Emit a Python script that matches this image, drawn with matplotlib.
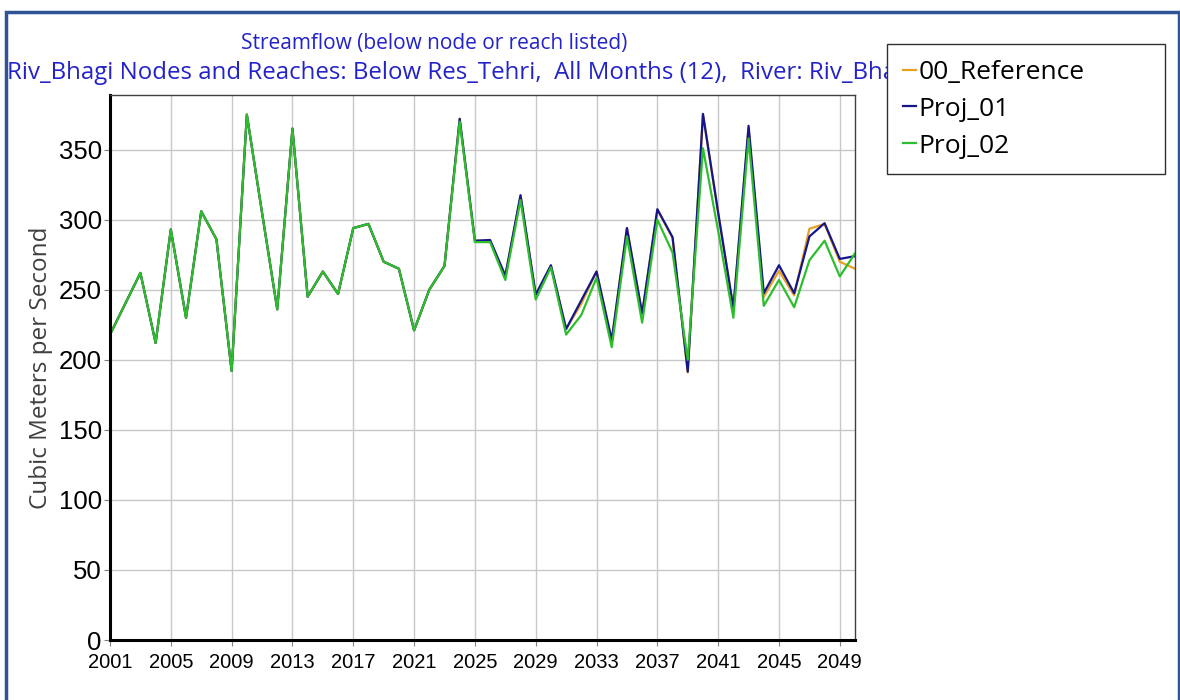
import matplotlib.pyplot as plt
from matplotlib.patches import Rectangle
from matplotlib import font_manager

years = list(range(2001, 2051))

# 2001-2024 is the same for all three runs
shared = [218, 240, 262, 212, 293, 230, 306, 286, 192, 375,
          305, 236, 365, 245, 263, 247, 294, 297, 270, 265,
          221, 250, 267]

reference = shared + [372,
                      285, 285, 260, 317, 246.5, 267, 222, 240, 263, 214,
                      294, 233, 307, 287, 191, 375, 305, 237, 365, 245,
                      263.5, 246, 293.5, 297, 270, 265]
proj_01 = shared + [372,
                    285, 285.5, 260, 317.5, 246.5, 267.5, 222, 242.5, 263, 214,
                    294, 233, 307.5, 287.5, 191.5, 375.5, 305, 237, 367, 247.5,
                    267.5, 247.5, 288, 297.5, 272, 274]
proj_02 = shared + [370,
                    284, 284, 257, 314, 243, 266, 218, 232, 258.5, 209,
                    288, 226.5, 300, 276.5, 200, 351, 292, 230, 358, 238.5,
                    257, 237.5, 271, 285, 259.5, 276]

series_names = ["00_Reference", "Proj_01", "Proj_02"]
series_colors = ["#E6A11E", "#16168C", "#2DBE2D"]

x_ticks = list(range(2001, 2050, 4))
y_ticks = list(range(0, 351, 50))

installed = {f.name for f in font_manager.fontManager.ttflist}
narrow = "Liberation Sans Narrow" if "Liberation Sans Narrow" in installed else "Liberation Sans"
ui_font = "Open Sans"

fig = plt.figure(figsize=(11.8, 7), dpi=100)
ax = fig.add_axes([110 / 1180, 60 / 700, 745 / 1180, 545 / 700])

for vals, name, col in zip([reference, proj_01, proj_02], series_names, series_colors):
    ax.plot(years, vals, color=col, lw=1.6, label=name)

ax.set_xlim(2001, 2050)
ax.set_ylim(0, 389)
ax.set_xticks(x_ticks)
ax.set_yticks(y_ticks)
ax.set_xticklabels([str(y) for y in x_ticks], fontfamily=narrow, fontsize=14.5)
ax.set_yticklabels([str(v) for v in y_ticks], fontfamily="Liberation Sans", fontsize=18.5)
ax.tick_params(length=4, width=0.8, color="#808080", pad=2)
ax.tick_params(axis="x", pad=5)
ax.grid(True, color="#C8C8C8", lw=1)
ax.set_axisbelow(True)

for side in ["left", "bottom"]:
    ax.spines[side].set_linewidth(2.2)
    ax.spines[side].set_color("black")
for side in ["top", "right"]:
    ax.spines[side].set_linewidth(1)
    ax.spines[side].set_color("#404040")

ax.set_ylabel("Cubic Meters per Second", fontfamily=ui_font, fontsize=17.5,
              color="#404040", labelpad=4)

fig.text(434 / 1180, 1 - 44 / 700, "Streamflow (below node or reach listed)",
         ha="center", va="center", fontfamily=ui_font, fontsize=15, color="#2323C8")
fig.text(7 / 1180, 1 - 73 / 700,
         "Riv_Bhagi Nodes and Reaches: Below Res_Tehri,  All Months (12),  River: Riv_Bhagi",
         ha="left", va="center", fontfamily=ui_font, fontsize=17.3, color="#2323C8")

# legend box sits over the end of the long subtitle
leg = fig.legend(loc="upper left",
                 bbox_to_anchor=(887 / 1180, 1 - 166 / 700, 278 / 1180, 122 / 700),
                 mode="expand", prop={"family": ui_font, "size": 19},
                 frameon=True, fancybox=False, framealpha=1,
                 handlelength=0.5, handletextpad=0.1, borderpad=0.6,
                 labelspacing=0.45, borderaxespad=0)
leg.get_frame().set_edgecolor("#303030")
leg.get_frame().set_facecolor("white")
leg.get_frame().set_linewidth(1)
leg.set_zorder(10)

# outer frame round the whole chart
fig.patches.append(Rectangle((6 / 1180, -0.01), 1173 / 1180, 1 - 12 / 700 + 0.01,
                             transform=fig.transFigure, fill=False,
                             edgecolor="#2E5495", lw=2.5))

fig.savefig("out.png", dpi=100)
